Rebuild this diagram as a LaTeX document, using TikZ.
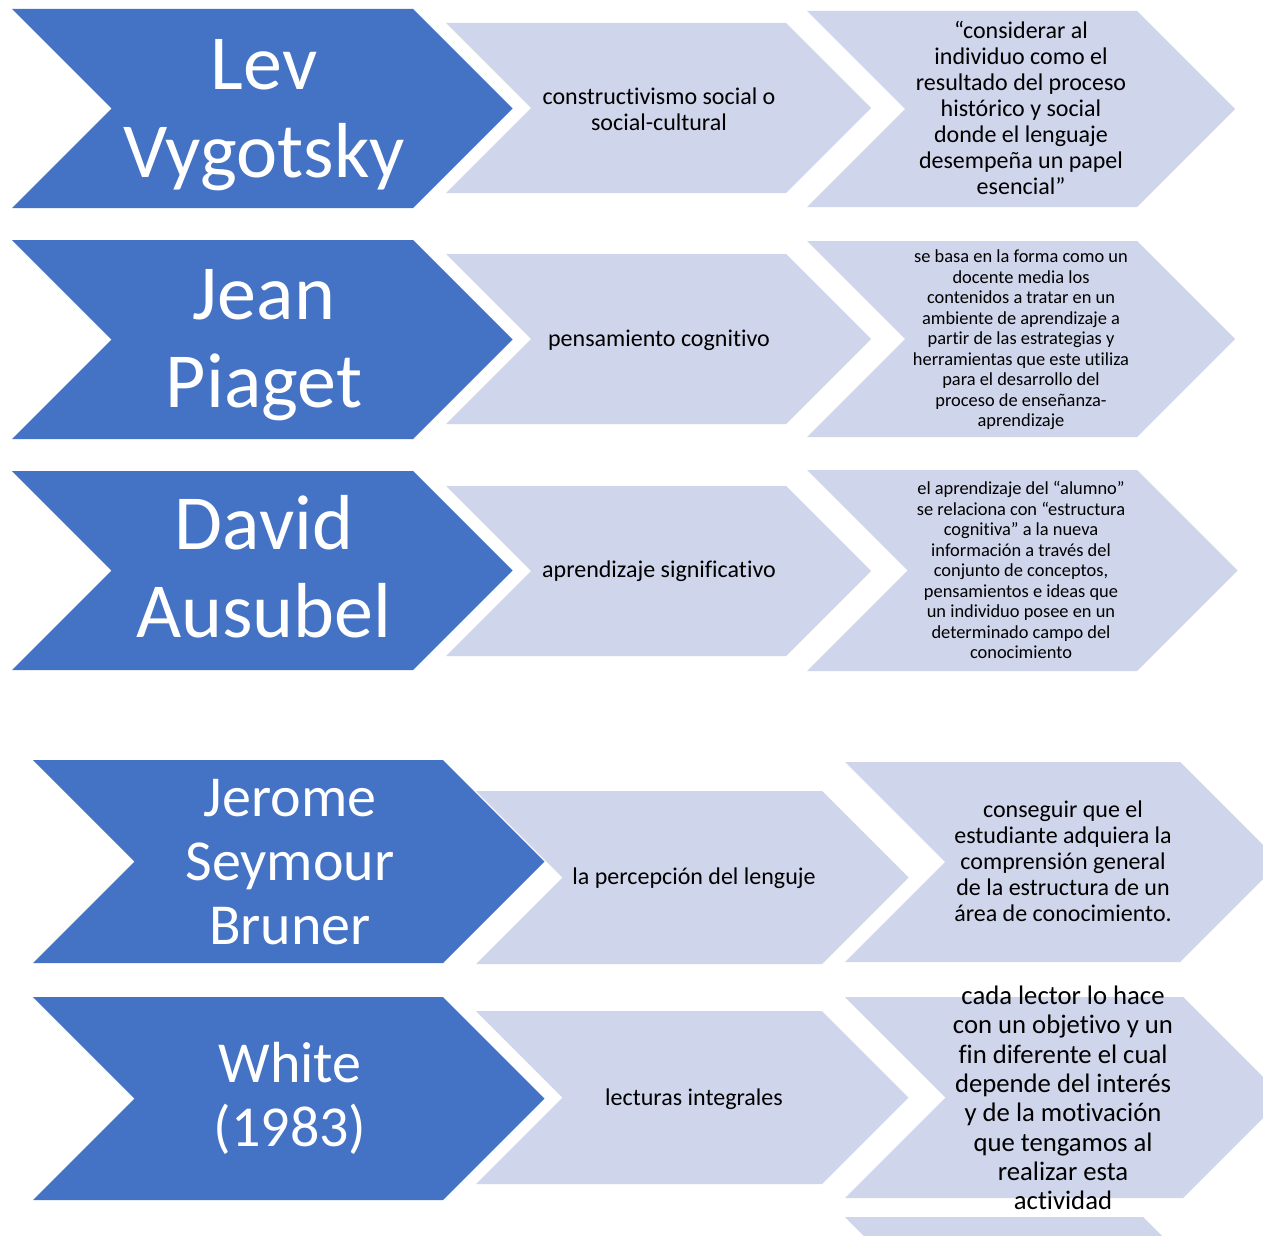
\documentclass[tikz,border=0pt]{standalone}
\usepackage{fontspec}
\setmainfont{Carlito}[Ligatures=NoCommon]
\definecolor{accblue}{HTML}{4472C4}
\definecolor{acclight}{HTML}{CFD5EA}
% #1 style, #2 left x, #3 right-top x, #4 top y, #5 bottom y
\newcommand\chev[5]{%
  \pgfmathsetmacro\cmid{(#4+#5)/2}%
  \pgfmathsetmacro\cdep{(#5-#4)/2}%
  \fill[#1] (#2,#4) -- (#3,#4) -- ({#3+\cdep},\cmid) -- (#3,#5) -- (#2,#5) -- ({#2+\cdep},\cmid) -- cycle;}
\begin{document}
\begin{tikzpicture}[x=1pt,y=-1pt,
  bluechev/.style={fill=accblue},
  lightchev/.style={fill=acclight},
  bigname/.style={text=white,align=center,inner sep=0pt,font=\fontsize{78}{88}\selectfont},
  midname/.style={text=white,align=center,inner sep=0pt,font=\fontsize{58}{64}\selectfont},
  idea/.style={text=black,align=center,inner sep=0pt,font=\fontsize{24}{26}\selectfont},
  smallidea/.style={text=black,align=center,inner sep=0pt,font=\fontsize{18.4}{20.5}\selectfont},
  bigidea/.style={text=black,align=center,inner sep=0pt,font=\fontsize{26.7}{29.3}\selectfont}]
\clip (0,0) rectangle (1263,1236);
\fill[white] (0,0) rectangle (1263,1236);
% blue chevrons
\chev{bluechev}{12}{413}{9}{208}
\chev{bluechev}{12}{413}{240}{439}
\chev{bluechev}{12}{413}{471}{670}
\chev{bluechev}{33}{443}{760}{963}
\chev{bluechev}{33}{443}{997}{1200}
% middle chevrons
\chev{lightchev}{446}{786}{23}{193}
\chev{lightchev}{446}{786}{254}{424}
\chev{lightchev}{446}{786}{486}{656}
\chev{lightchev}{476}{822}{791}{964}
\chev{lightchev}{476}{822}{1011}{1184}
% right chevrons
\chev{lightchev}{807}{1137}{11}{207}
\chev{lightchev}{807}{1137}{241}{437}
\chev{lightchev}{807}{1137}{470}{671}
\chev{lightchev}{845}{1180}{762}{962}
\chev{lightchev}{845}{1183}{997}{1198}
\chev{lightchev}{845}{1143}{1217}{1417}
% names
\node[bigname] (n1) at (264,115) {Lev\\Vygotsky};
\node[bigname] (n2) at (264,345) {Jean\\Piaget};
\node[bigname] (n3) at (264,567) {David\\Ausubel};
\node[midname] (n4) at (290,862) {Jerome\\Seymour\\Bruner};
\node[midname] (n5) at (290,1098) {White\\(1983)};
% middle texts
\node[idea] (m1) at (659,109) {constructivismo social o\\social-cultural};
\node[idea] (m2) at (659,340) {pensamiento cognitivo};
\node[idea] (m3) at (659,571) {aprendizaje significativo};
\node[idea] (m4) at (694,878) {la percepción del lenguje};
\node[idea] (m5) at (694,1099) {lecturas integrales};
% right texts
\node[idea] (r1) at (1021,108) {“considerar al\\individuo como el\\resultado del proceso\\histórico y social\\donde el lenguaje\\desempeña un papel\\esencial”};
\node[smallidea] (r2) at (1021,340) {se basa en la forma como un\\docente media los\\contenidos a tratar en un\\ambiente de aprendizaje a\\partir de las estrategias y\\herramientas que este utiliza\\para el desarrollo del\\proceso de enseñanza-\\aprendizaje};
\node[smallidea] (r3) at (1021,570) {el aprendizaje del “alumno”\\se relaciona con “estructura\\cognitiva” a la nueva\\información a través del\\conjunto de conceptos,\\pensamientos e ideas que\\un individuo posee en un\\determinado campo del\\conocimiento};
\node[idea] (r4) at (1063,861) {conseguir que el\\estudiante adquiera la\\comprensión general\\de la estructura de un\\área de conocimiento.};
\node[bigidea] (r5) at (1063,1098) {cada lector lo hace\\con un objetivo y un\\fin diferente el cual\\depende del interés\\y de la motivación\\que tengamos al\\realizar esta\\actividad};
\end{tikzpicture}
\end{document}
